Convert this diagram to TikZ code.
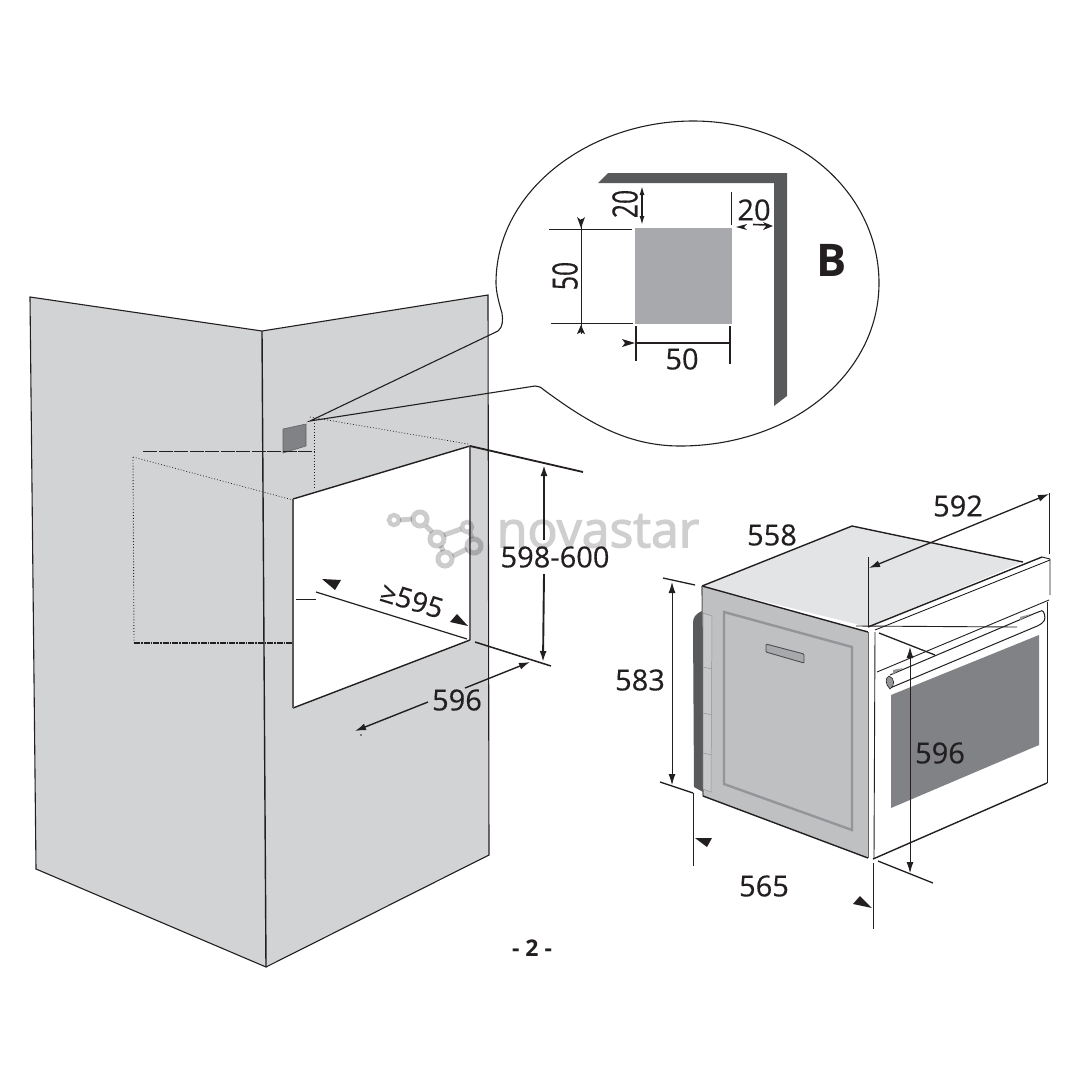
\documentclass[tikz,border=0pt]{standalone}
\usepackage{fontspec}
\setmainfont{Open Sans}
\newfontfamily\dimfont[FakeBold=0.35]{Open Sans}
\newfontfamily\wmfont[FakeBold=2.5]{Open Sans}
\usetikzlibrary{arrows.meta}
\definecolor{wallgray}{HTML}{D1D3D4}
\definecolor{dark}{HTML}{58595B}
\definecolor{midgray}{HTML}{A7A9AC}
\definecolor{topgray}{HTML}{E3E4E5}
\definecolor{sidegray}{HTML}{BFC0C2}
\definecolor{framegray}{HTML}{939598}
\definecolor{glass}{HTML}{808285}
\definecolor{ink}{HTML}{231F20}
\tikzset{
  thin line/.style={draw=ink,line width=0.9pt},
  med line/.style={draw=ink,line width=1.4pt},
  heavy line/.style={draw=ink,line width=1.8pt},
  dim/.style={font=\dimfont\fontsize{29}{29}\selectfont,text=ink,inner sep=0pt},
  dbl/.style={draw=ink,{Latex[length=11pt,width=7pt]}-{Latex[length=11pt,width=7pt]}},
  single/.style={draw=ink,-{Latex[length=11pt,width=7pt]}},
  tri/.style={fill=ink,draw=none},
  wm/.style={draw=black,draw opacity=0.2,line width=5pt},
}
\begin{document}
\begin{tikzpicture}[x=1pt,y=-1pt]
\useasboundingbox (0,0) rectangle (1080,1080);
% wall
\fill[wallgray] (30,297) -- (262,331) -- (488,295) -- (489,855) -- (266,967) -- (36,869) -- cycle;
\draw[thin line,line width=1.1pt] (36,869) -- (30,297) -- (262,331) -- (488,295) -- (489,855) -- (266,967) -- cycle;
\draw[med line] (262,331) -- (266,967);
% opening
\fill[white] (293,499) -- (470,446) -- (470,640) -- (293,708) -- cycle;
\draw[med line] (293,499) -- (470,446);
\draw[draw=ink!70,line width=1.1pt] (470,446) -- (470,640);
\draw[med line] (470,640) -- (293,708);
\draw[draw=ink!75,line width=1.1pt] (293,499) -- (293,708);
% template rectangle
\fill[glass,draw=ink!70,line width=0.6pt] (283,429) -- (306,424) -- (306,446) -- (283,453) -- cycle;
\draw[thin line,line width=0.7pt,dash pattern=on 14pt off 1.5pt] (143,451) -- (314,451);
\draw[thin line,dotted] (314,420) -- (314,487);
\draw[thin line,dotted,line width=0.7pt] (310,417) -- (468,444);
\draw[thin line,dotted,line width=0.7pt] (133,457) -- (293,500);
\draw[thin line,dotted] (133,457) -- (134,643);
\draw[med line,dash pattern=on 6pt off 1pt on 1.5pt off 1pt] (134,643) -- (293,643);
% watermark
\draw[wm] (400,520) -- (412,519) (426,526) -- (432,532) (444,535) -- (461,529)
  (470,533) -- (472,538) (467,549) -- (453,556) (441,546) -- (443,551);
\draw[wm,line width=4.4pt] (394,520) circle (5);
\draw[wm] (420,519) circle (7);
\draw[wm] (437,539) circle (7);
\draw[wm,line width=4.4pt] (467,527) circle (5);
\draw[wm] (474,546) circle (7);
\draw[wm] (445,559) circle (7);
\node[inner sep=0pt,text=black!19,font=\wmfont\fontsize{50}{50}\selectfont] (wmtext) at (598,531) {novastar};
% bubble
\coordinate (tip) at (310,421);
\draw[thin line,line width=1.1pt] (tip) -- (498,331) .. controls (503,327) and (503,320) .. (502,313)
  .. controls (498,300) and (496,290) .. (496,283)
  .. controls (496,190) and (590,121) .. (693,121)
  .. controls (800,121) and (879,195) .. (879,283)
  .. controls (879,375) and (790,446) .. (680,446)
  .. controls (625,446) and (585,420) .. (544,390)
  .. controls (541,387) and (538,386) .. (535,386) -- cycle;
% bracket
\fill[dark] (598,183) -- (608,173) -- (787,173) -- (787,396) -- (774,406) -- (774,183) -- cycle;
\fill[midgray] (635,228) rectangle (732,324);
% detail dims
\node[dim,rotate=90] (t20a) at (625,204) {\scalebox{.85}[1.2]{20}};
\draw[dbl,line width=1.4pt,{Latex[length=9pt,width=5pt]}-{Latex[length=9pt,width=5pt]}] (642,186) -- (642,225);
\node[dim] (t20b) at (754,210) {20};
\draw[thin line] (731,192) -- (731,225);
\fill[tri] (736,227) -- (747,224) -- (744,227) -- (747,230) -- cycle;
\draw[draw=ink,line width=1.6pt] (753,224.5) -- (768,225);
\fill[tri] (773,226) -- (763,222) -- (766,226) -- (763,230) -- cycle;
\node[dim,rotate=90] (t50a) at (565,276) {\scalebox{.85}[1.2]{50}};
\draw[thin line,line width=0.7pt] (549,229) -- (632,229);
\draw[thin line,line width=0.7pt] (551,323) -- (633,323);
\draw[thin line,line width=0.7pt] (581,219) -- (581,334);
\fill[tri] (581,228) -- (577,217) -- (581,220) -- (585,217) -- cycle;
\fill[tri] (581,325) -- (577,334) -- (581,332) -- (585,334) -- cycle;
\draw[heavy line,line width=1.4pt] (636,326) -- (636,361);
\draw[heavy line,line width=1.4pt] (730,326) -- (730,364);
\draw[heavy line,line width=1.4pt] (636,343) -- (730,343);
\fill[tri] (622,339) -- (635,343) -- (622,347) -- (625,343) -- cycle;
\node[dim] (t50b) at (682,359) {50};
\node[font=\bfseries\fontsize{45}{45}\selectfont,text=ink,inner sep=0pt] (tB) at (832,260) {B};
% wall dims
\draw[heavy line] (470,446) -- (583,472);
\draw[heavy line,line width=1.5pt] (475,642) -- (551,666);
\draw[single,line width=1.9pt] (544,540) -- (544,465);
\draw[single,line width=1.9pt] (544,574) -- (543,662);
\node[dim] (t598) at (555,557) {598-600};
\draw[single,line width=1.4pt] (428,702) -- (355,731);
\draw[single,line width=1.4pt] (465,688) -- (530,662);
\node[dim] (t596a) at (457,700) {596};
\fill[ink] (361,735) circle (0.8);
\draw[thin line,line width=1.2pt] (316,592) -- (467,639);
\draw[thin line,line width=0.7pt] (296,599) -- (316,599);
\fill[tri] (322,579) -- (341,580) -- (335,590) -- cycle;
\fill[tri] (468,626) -- (457,614) -- (450,622) -- cycle;
\node[font=\dimfont\fontsize{28}{28}\selectfont,text=ink,inner sep=0pt,rotate=-17] (t595) at (412,600) {≥595};
% oven body
\fill[topgray] (702,586) -- (852,526) -- (1023,562) -- (868,627) -- cycle;
\draw[med line] (702,586) -- (852,526) -- (1023,562);
\fill[dark] (702,611) .. controls (695,614) and (693,618) .. (693,623) -- (694,787) -- (703,792) -- cycle;
\fill[sidegray] (702,586) -- (868,632) -- (868,858) -- (703,796) -- cycle;
\draw[med line] (702,586) -- (868,632);
\draw[draw=dark,line width=1.1pt] (702,586) -- (703,796);
\draw[med line] (703,796) -- (868,858);
\fill[sidegray!88!white,draw=framegray,line width=0.5pt] (703,613) -- (712,616) -- (711,792) -- (703,789) -- cycle;
\foreach \a/\b/\c/\d in {703/667/712/669,703/713/712/715,703/753/712/755}{
  \draw[framegray,line width=0.5pt] (\a,\b) -- (\c,\d);
}
\draw[framegray,line width=2.4pt] (724,612) -- (852,647) -- (852,830) -- (724,784) -- cycle;
\filldraw[fill=midgray,draw=ink!80,line width=0.9pt,rounded corners=1pt] (766,644) -- (804,654) -- (804,663) -- (766,652) -- cycle;
% oven front
\fill[white] (868,627) -- (1042,557) -- (1050,559) -- (1050,595) -- (1047,602) -- (1047,783) -- (873,859) -- (868,858) -- cycle;
\draw[draw=ink!70,line width=1pt] (868,632) -- (868,858);
\draw[thin line] (875,632) -- (874,859);
\draw[med line] (873,859) -- (1047,783);
\draw[thin line,line width=0.8pt] (1047,602) -- (1047,783);
\draw[med line] (868,627) -- (1042,557);
\draw[thin line] (1042,557) -- (1050,559) -- (1050,595);
\draw[thin line] (875,630) -- (1050,560);
\draw[thin line] (877,672) -- (1049,600);
% handle
\draw[thin line,line width=1pt,fill=white,rounded corners=4pt] (890,675) -- (1038,612) .. controls (1044,610) and (1046,618) .. (1042,624) -- (890,688);
\fill[framegray] (893,670) -- (903,668) -- (893,674) -- cycle;
\fill[framegray] (1020,617) -- (1031,614) -- (1020,620) -- cycle;
\fill[framegray,draw=ink,line width=0.6pt] (889,676) .. controls (885,678) and (885,684) .. (890,689) .. controls (895,686) and (895,678) .. (889,676) -- cycle;
\fill[glass] (891,695) -- (1039,635) -- (1039,745) -- (891,808) -- cycle;
% oven dims
\draw[thin line] (868,557) -- (868,627);
\draw[thin line] (1049,493) -- (1049,554);
\draw[dbl,line width=1.3pt] (869,568) -- (1049,494);
\node[dim] (t592) at (958,506) {592};
\node[dim] (t558) at (772,535) {558};
\draw[heavy line,line width=1.3pt] (663,578) -- (695,585);
\draw[heavy line,line width=1.3pt] (660,782) -- (693,793);
\draw[thin line] (693,793) -- (693,866);
\draw[dbl,line width=0.8pt] (672,582) -- (672,785);
\node[dim] (t583) at (640,680) {583};
\fill[tri] (695,838) -- (712,838) -- (707,847) -- cycle;
\node[dim] (t565) at (764,886) {565};
\draw[thin line] (873,863) -- (873,929);
\fill[tri] (853,904) -- (860,896) -- (872,908) -- cycle;
\draw[dbl,line width=0.8pt] (910,647) -- (910,873);
\draw[heavy line,line width=1.3pt] (879,633) -- (935,655);
\draw[heavy line,line width=1.3pt] (878,861) -- (933,883);
\draw[thin line] (856,626) -- (1017,627);
\node[dim] (t596b) at (940,753) {596};
\node[font=\bfseries\fontsize{23}{23}\selectfont,text=ink,inner sep=0pt] (page) at (532,948) {- 2 -};
\end{tikzpicture}
\end{document}
